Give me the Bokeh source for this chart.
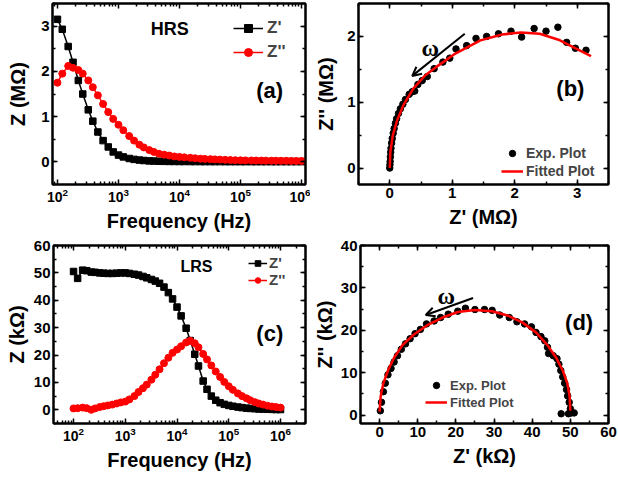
from bokeh.plotting import figure
from bokeh.models import (LinearAxis, Legend, LegendItem, Label, Arrow,
                          OpenHead, Range1d, FixedTicker, SingleIntervalTicker,
                          CustomJSTickFormatter)
from bokeh.layouts import column, row
from bokeh.embed import file_html
from bokeh.resources import INLINE

# ---------------- data ----------------
freq = [100, 120, 150, 180, 220, 260, 320, 380, 460, 560, 680, 820,
        1e3, 1.2e3, 1.5e3, 1.8e3, 2.2e3, 2.6e3, 3.2e3, 3.8e3, 4.6e3, 5.6e3, 6.8e3, 8.2e3,
        1e4, 1.2e4, 1.5e4, 1.8e4, 2.2e4, 2.6e4, 3.2e4, 3.8e4, 4.6e4, 5.6e4, 6.8e4, 8.2e4,
        1e5, 1.2e5, 1.5e5, 1.8e5, 2.2e5, 2.6e5, 3.2e5, 3.8e5, 4.6e5, 5.6e5, 6.8e5, 8.2e5, 1e6]

# HRS (MOhm)
hrs_zre = [3.15, 2.93, 2.55, 2.20, 1.80, 1.50, 1.15, 0.90, 0.66, 0.47, 0.33, 0.22,
           0.15, 0.11, 0.075, 0.055, 0.04, 0.03, 0.022, 0.018, 0.014, 0.012, 0.010, 0.009,
           0.008, 0.008, 0.007, 0.007, 0.007, 0.006, 0.006, 0.006, 0.006, 0.005, 0.005, 0.005,
           0.005, 0.005, 0.005, 0.005, 0.005, 0.005, 0.005, 0.005, 0.005, 0.005, 0.005, 0.005, 0.005]
hrs_zim = [1.75, 1.95, 2.12, 2.08, 2.03, 1.95, 1.80, 1.65, 1.47, 1.28, 1.10, 0.95,
           0.82, 0.70, 0.57, 0.47, 0.38, 0.32, 0.26, 0.22, 0.18, 0.16, 0.14, 0.12,
           0.11, 0.10, 0.09, 0.08, 0.07, 0.065, 0.06, 0.055, 0.05, 0.045, 0.04, 0.037,
           0.035, 0.033, 0.031, 0.030, 0.028, 0.027, 0.026, 0.025, 0.024, 0.023, 0.022, 0.021, 0.020]

# LRS (kOhm)
lrs_zre = [50.5, 48.0, 51.0, 50.8, 50.3, 50.2, 50.0, 49.9, 49.8, 49.8, 49.9, 50.0,
           50.0, 49.8, 49.5, 49.2, 48.7, 48.2, 47.6, 47.0, 46.2, 44.8, 42.8, 40.5,
           37.5, 34.3, 29.8, 25.3, 20.3, 16.0, 10.5, 7.5, 5.0, 3.5, 2.6, 2.0,
           1.6, 1.3, 1.0, 0.8, 0.6, 0.5, 0.4, 0.3, 0.25, 0.2, 0.15, 0.1, 0.1]
lrs_zim = [0.5, 0.6, 0.8, 0.6, 0.0, 0.5, 1.0, 1.3, 1.6, 1.9, 2.3, 2.7,
           3.0, 3.8, 5.0, 6.5, 7.9, 9.2, 11.0, 12.8, 14.8, 17.0, 19.0, 20.8,
           22.0, 23.2, 24.6, 25.2, 24.3, 22.8, 20.4, 18.4, 16.2, 14.0, 12.0, 10.2,
           8.6, 7.3, 6.0, 5.0, 4.2, 3.5, 2.8, 2.3, 1.9, 1.5, 1.2, 1.0, 0.8]

# Nyquist HRS (MOhm)
b_exp_re = [0.0, 0.003, 0.006, 0.01, 0.015, 0.02, 0.03, 0.04, 0.055, 0.07, 0.09, 0.11, 0.14,
            0.17, 0.21, 0.25, 0.31, 0.36, 0.40, 0.45, 0.52, 0.60, 0.71, 0.85, 0.96, 1.06,
            1.23, 1.38, 1.55, 1.74, 1.94, 2.11, 2.31, 2.50, 2.69, 2.83, 2.97, 3.14]
b_exp_im = [0.0, 0.05, 0.10, 0.17, 0.24, 0.30, 0.38, 0.45, 0.53, 0.60, 0.68, 0.75, 0.83,
            0.90, 0.97, 1.04, 1.12, 1.16, 1.17, 1.27, 1.33, 1.39, 1.51, 1.61, 1.67, 1.81,
            1.86, 1.97, 2.00, 2.04, 2.08, 1.99, 2.12, 2.08, 2.14, 1.91, 1.82, 1.79]
b_fit_re = [0.0, 0.01, 0.05, 0.12, 0.22, 0.38, 0.57, 0.78, 1.05, 1.45, 1.80, 2.10, 2.40, 2.70, 2.95, 3.22]
b_fit_im = [0.0, 0.25, 0.50, 0.73, 0.96, 1.21, 1.41, 1.56, 1.74, 1.94, 2.03, 2.06, 2.04, 1.95, 1.83, 1.70]

# Nyquist LRS (kOhm)
d_exp_re = [0.2, 0.5, 1.0, 1.5, 2.2, 3.0, 3.8, 4.7, 5.7, 6.8, 8.0, 9.3, 10.7, 12.3, 14.3, 16.0,
            18.0, 20.5, 22.5, 25.0, 27.5, 29.5, 31.5, 34.0, 36.0, 38.0, 39.8, 41.0, 42.3, 43.3,
            44.0, 44.3, 45.5, 46.5, 47.0, 47.5, 48.0, 48.5, 49.0, 49.3, 49.7, 50.0, 50.3, 51.0,
            47.6, 49.5]
d_exp_im = [1.0, 3.0, 5.5, 7.5, 9.5, 11.0, 12.5, 14.0, 15.5, 16.8, 18.0, 19.2, 20.2, 21.5, 22.2, 23.0,
            23.8, 24.5, 25.2, 24.9, 24.9, 24.7, 23.6, 23.0, 22.0, 21.5, 20.8, 19.5, 18.5, 17.5,
            16.0, 14.5, 14.0, 13.3, 12.0, 10.5, 9.0, 7.5, 6.0, 4.5, 3.0, 1.5, 0.5, 0.5,
            0.3, 0.3]
d_fit_re = [0.0, 0.3, 1.0, 2.2, 3.8, 6.0, 9.0, 12.5, 16.5, 20.5, 25.0, 29.5, 33.5, 37.5, 41.0,
            44.0, 46.3, 48.0, 49.2, 49.8, 50.0]
d_fit_im = [0.8, 4.5, 7.5, 10.5, 13.5, 16.5, 19.0, 21.2, 23.0, 24.3, 24.8, 24.5, 23.5, 21.8, 19.5,
            16.5, 13.5, 10.5, 7.5, 4.5, 1.0]

log_major = [1e2, 1e3, 1e4, 1e5, 1e6]
log_minor = [m * 10 ** k for k in range(1, 7) for m in range(2, 10)]

FONT = "Liberation Sans"
RED = "#ff0000"


def style_axis(ax, size="15px", hide=False):
    ax.major_tick_in = 5
    ax.major_tick_out = 0
    ax.minor_tick_in = 3
    ax.minor_tick_out = 0
    ax.axis_line_width = 2
    ax.major_tick_line_width = 1.5
    ax.minor_tick_line_width = 1.5
    ax.major_label_text_font = FONT
    ax.major_label_text_font_style = "bold"
    ax.major_label_text_font_size = size
    ax.major_label_text_color = "black"
    ax.major_label_standoff = 3
    ax.axis_label_text_font = FONT
    ax.axis_label_text_font_style = "bold"
    ax.axis_label_text_font_size = "20px"
    ax.axis_label_text_color = "black"
    if hide:
        ax.formatter = CustomJSTickFormatter(code="return '';")
        ax.major_label_text_font_size = "1px"
        ax.major_label_standoff = 0


def make_fig(w, h, xr, yr, borders, xlog=False):
    l, r, t, b = borders
    kw = dict(width=w, height=h, x_range=Range1d(*xr), y_range=Range1d(*yr),
              output_backend="svg", toolbar_location=None,
              min_border_left=l, min_border_right=r, min_border_top=t, min_border_bottom=b)
    if xlog:
        kw["x_axis_type"] = "log"
    p = figure(**kw)
    p.grid.visible = False
    p.outline_line_color = "black"
    p.outline_line_width = 2
    p.background_fill_color = "white"
    p.border_fill_color = "white"
    return p


def finish(p, xticker, yticker, xlabel, ylabel, ylab_standoff=5, xlab_standoff=3, xsize="15px"):
    p.xaxis.ticker = xticker
    p.yaxis.ticker = yticker
    style_axis(p.xaxis[0], xsize)
    style_axis(p.yaxis[0])
    p.xaxis.axis_label = xlabel
    p.yaxis.axis_label = ylabel
    p.yaxis.axis_label_standoff = ylab_standoff
    p.xaxis.axis_label_standoff = xlab_standoff
    top = LinearAxis(ticker=xticker)
    style_axis(top, hide=True)
    p.add_layout(top, "above")
    right = LinearAxis(ticker=yticker)
    style_axis(right, hide=True)
    p.add_layout(right, "right")


def legend(p, items, loc, fs, gw, gh, spacing, standoff=4):
    lg = Legend(items=items, location=loc, label_text_font=FONT,
                label_text_font_style="bold", label_text_font_size=fs,
                glyph_width=gw, glyph_height=gh, label_height=gh, spacing=spacing,
                padding=0, margin=0, label_standoff=standoff,
                border_line_color=None, background_fill_alpha=0)
    p.add_layout(lg)


def txt(p, x, y, s, size, font=FONT):
    p.add_layout(Label(x=x, y=y, text=s, text_font=font, text_font_style="bold",
                       text_font_size=size, text_align="center", text_baseline="middle",
                       text_color="black"))


# ---------------- (a) ----------------
pa = make_fig(310, 236, (83, 1.16e6), (-0.5, 3.5), (52, 5, 3, 52), xlog=True)
la1 = pa.line(freq, hrs_zre, color="black", line_width=1.5)
sa1 = pa.scatter(freq, hrs_zre, marker="square", size=6.5, color="black")
la2 = pa.line(freq, hrs_zim, color=RED, line_width=1.5)
sa2 = pa.scatter(freq, hrs_zim, marker="circle", size=7, color=RED)
finish(pa, FixedTicker(ticks=log_major, minor_ticks=log_minor),
       SingleIntervalTicker(interval=1, num_minor_ticks=2),
       "Frequency (Hz)", "Z (M\u03a9)", ylab_standoff=9, xlab_standoff=5, xsize="14px")
legend(pa, [LegendItem(label="Z'", renderers=[la1, sa1]),
            LegendItem(label="Z''", renderers=[la2, sa2])],
       (181, 122), "17px", 30, 20, 4)
txt(pa, 6900, 2.94, "HRS", "18px")
txt(pa, 3.0e5, 1.58, "(a)", "22px")

# ---------------- (b) ----------------
pb = make_fig(308, 236, (-0.5, 3.5), (-0.25, 2.5), (48, 10, 3, 51))
sb = pb.scatter(b_exp_re, b_exp_im, marker="circle", size=6.5, color="black")
lb = pb.line(b_fit_re, b_fit_im, color=RED, line_width=2.5)
finish(pb, SingleIntervalTicker(interval=1, num_minor_ticks=2),
       SingleIntervalTicker(interval=1, num_minor_ticks=2),
       "Z' (M\u03a9)", "Z'' (M\u03a9)", ylab_standoff=7, xlab_standoff=5)
legend(pb, [LegendItem(label="Exp. Plot", renderers=[sb]),
            LegendItem(label="Fitted Plot", renderers=[lb])],
       (143, 5), "14px", 22, 16, 2, 3)
pb.add_layout(Arrow(end=OpenHead(size=9, line_width=2, line_color="black"),
                    x_start=1.2, y_start=2.04, x_end=0.36, y_end=1.40,
                    line_width=2, line_color="black"))
txt(pb, 0.65, 1.83, "\u03c9", "24px", font="Liberation Serif")
txt(pb, 2.89, 1.21, "(b)", "22px")

# ---------------- (c) ----------------
pc = make_fig(310, 241, (41, 3.04e6), (-5, 60), (53, 5, 9, 48), xlog=True)
lc1 = pc.line(freq, lrs_zre, color="black", line_width=1.5)
sc1 = pc.scatter(freq, lrs_zre, marker="square", size=6.5, color="black")
lc2 = pc.line(freq, lrs_zim, color=RED, line_width=1.5)
sc2 = pc.scatter(freq, lrs_zim, marker="circle", size=7, color=RED)
finish(pc, FixedTicker(ticks=log_major, minor_ticks=log_minor),
       SingleIntervalTicker(interval=10, num_minor_ticks=2),
       "Frequency (Hz)", "Z (k\u03a9)", ylab_standoff=3, xlab_standoff=5, xsize="14px")
legend(pc, [LegendItem(label="Z'", renderers=[lc1, sc1]),
            LegendItem(label="Z''", renderers=[lc2, sc2])],
       (195, 135), "15px", 19, 14, 0, 2)
txt(pc, 23700, 52.3, "LRS", "16px")
txt(pc, 6.2e5, 27.9, "(c)", "22px")

# ---------------- (d) ----------------
pd_ = make_fig(308, 241, (-5, 60), (-2, 40), (48, 10, 8, 54))
sd = pd_.scatter(d_exp_re, d_exp_im, marker="circle", size=6.5, color="black")
ld = pd_.line(d_fit_re, d_fit_im, color=RED, line_width=2.5)
finish(pd_, SingleIntervalTicker(interval=10, num_minor_ticks=2),
       SingleIntervalTicker(interval=10, num_minor_ticks=2),
       "Z' (k\u03a9)", "Z'' (k\u03a9)", ylab_standoff=2, xlab_standoff=5)
legend(pd_, [LegendItem(label="Exp. Plot", renderers=[sd]),
             LegendItem(label="Fitted Plot", renderers=[ld])],
       (65, 13), "13px", 22, 16, 1, 3)
pd_.add_layout(Arrow(end=OpenHead(size=9, line_width=2, line_color="black"),
                     x_start=24.5, y_start=27.6, x_end=12.1, y_end=23.6,
                     line_width=2, line_color="black"))
txt(pd_, 17.5, 28.1, "\u03c9", "24px", font="Liberation Serif")
txt(pd_, 52.3, 21.8, "(d)", "22px")

layout = column(row(pa, pb), row(pc, pd_))
open("out.html", "w").write(file_html(layout, INLINE))
